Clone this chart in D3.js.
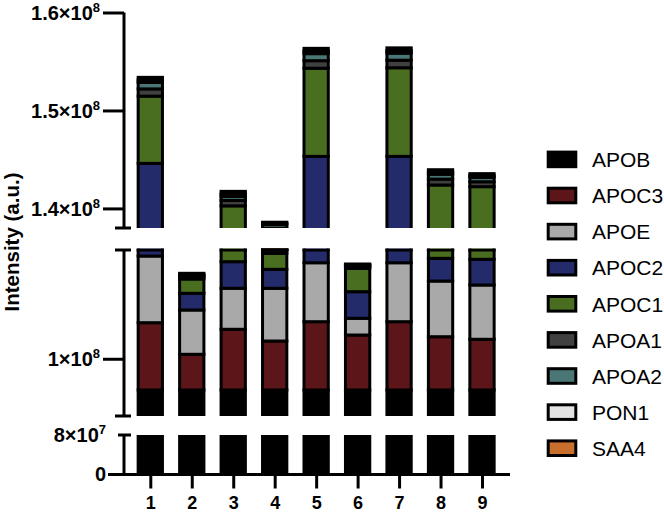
<!DOCTYPE html>
<html><head><meta charset="utf-8">
<script src="https://cdn.jsdelivr.net/npm/d3@7"></script>
<style>body{margin:0;background:#fff}svg{display:block}</style>
</head><body><svg id="c" width="664" height="514"></svg>
<script>
const categories = ["1","2","3","4","5","6","7","8","9"];
const proteins = ["APOB","APOC3","APOE","APOC2","APOC1","APOA1","APOA2","PON1","SAA4"];
const APOB  = [89.1e6, 89.1e6, 89.1e6, 89.1e6, 89.1e6, 89.1e6, 89.1e6, 89.1e6, 89.1e6];
const APOC3 = [23.5e6, 12.46e6, 21.2e6, 17.1e6, 23.85e6, 19.2e6, 23.85e6, 18.6e6, 17.7e6];
const APOE  = [23.3e6, 15.48e6, 14.33e6, 18.41e6, 20.6e6, 5.84e6, 20.6e6, 19.46e6, 18.97e6];
const APOC2 = [8.7e6, 5.83e6, 9.29e6, 6.64e6, 11.76e6, 9.29e6, 11.76e6, 7.93e6, 8.98e6];
const APOC1 = [6.86e6, 5.0e6, 6.34e6, 5.59e6, 9.0e6, 8.18e6, 9.05e6, 7.3e6, 7.47e6];
const APOA1 = [0.74e6, 0.6e6, 0.55e6, 1.13e6, 0.77e6, 0.55e6, 0.77e6, 0.6e6, 0.5e6];
const APOA2 = [0.66e6, 0.65e6, 0.4e6, 0.38e6, 0.72e6, 0.5e6, 0.72e6, 0.5e6, 0.45e6];
const PON1  = [0.26e6, 0.35e6, 0.25e6, 0.12e6, 0.26e6, 0.22e6, 0.26e6, 0.2e6, 0.18e6];
const SAA4  = [0.26e6, 0.39e6, 0.28e6, 0.12e6, 0.28e6, 0.23e6, 0.28e6, 0.26e6, 0.2e6];
const colors = ["#000000","#5c1619","#a9a9a9","#232b6b","#4a6e1f","#404040","#4a7676","#e3e3e3","#c96f2d"];
const segBot = [0, 8e7], segMid = [8e7, 1.38e8], segTop = [1.38e8, 1.6e8];
const ticksBot = [0, 8e7], ticksMid = [1e8], ticksTop = [1.4e8, 1.5e8, 1.6e8];
const yTitle = "Intensity (a.u.)";

const series = {APOB, APOC3, APOE, APOC2, APOC1, APOA1, APOA2, PON1, SAA4};
const rows = categories.map((c, i) => {
  const r = {cat: c};
  proteins.forEach(p => r[p] = series[p][i]);
  return r;
});
const stacked = d3.stack().keys(proteins)(rows);
const totals = rows.map(r => d3.sum(proteins, p => r[p]));

const svg = d3.select("#c");
const FONT = "'Liberation Sans', Arial, Helvetica, sans-serif";
const axisX = 124;

const x = d3.scalePoint().domain(categories).range([150.3, 482]);
const barW = 24.3;

const segments = [
  {dom: segBot, range: [474, 435], ticks: ticksBot, id: "b"},
  {dom: segMid, range: [416, 250], ticks: ticksMid, id: "m"},
  {dom: segTop, range: [228, 12.5], ticks: ticksTop, id: "t"}
];

const defs = svg.append("defs");

segments.forEach(seg => {
  const y = d3.scaleLinear().domain(seg.dom).range(seg.range);
  seg.y = y;
  const top = seg.range[1], bot = seg.range[0];
  const clipTop = seg.id === "m" ? top - 1.5 : top;
  defs.append("clipPath").attr("id", "clip-" + seg.id)
    .append("rect").attr("x", 0).attr("y", clipTop).attr("width", 664).attr("height", bot - clipTop);
  const g = svg.append("g").attr("clip-path", `url(#clip-${seg.id})`);
  stacked.forEach((layer, li) => {
    g.selectAll(null).data(layer).join("rect")
      .attr("x", d => x(d.data.cat) - barW / 2)
      .attr("width", barW)
      .attr("y", d => y(d[1]))
      .attr("height", d => Math.max(0, y(d[0]) - y(d[1])))
      .attr("fill", colors[li])
      .attr("stroke", "#000")
      .attr("stroke-width", 3);
  });
  if (seg.id === "m") {
    g.selectAll(null).data(rows.filter((r, i) => totals[i] > seg.dom[1])).join("line")
      .attr("x1", d => x(d.cat) - barW / 2 - 1.5)
      .attr("x2", d => x(d.cat) + barW / 2 + 1.5)
      .attr("y1", top).attr("y2", top)
      .attr("stroke", "#000").attr("stroke-width", 3);
  }
});

// y axis segments
function sciLabel(sel, v) {
  if (v === 0) { sel.text("0"); return; }
  const e = Math.floor(Math.log10(v));
  const m = +(v / Math.pow(10, e)).toFixed(2);
  sel.append("tspan").text(m + "×10");
  sel.append("tspan").attr("font-size", 13).attr("dy", -8).text(e);
}

segments.forEach(seg => {
  const y = seg.y;
  const top = seg.range[1], bot = seg.range[0];
  const g = svg.append("g").attr("transform", `translate(${axisX},0)`);
  const ax = d3.axisLeft(y).tickValues(seg.id === "b" ? [] : seg.ticks).tickSize(21).tickSizeOuter(0).tickFormat("");
  g.call(ax);
  g.select(".domain").attr("stroke-width", 3).attr("d", `M0,${top}V${bot}`);
  g.selectAll(".tick line").attr("stroke-width", 3);
  const caps = [];
  if (seg.id === "t") caps.push(bot);
  if (seg.id === "m") caps.push(top, bot);
  if (seg.id === "b") caps.push(top);
  caps.forEach(cy => {
    g.append("line").attr("x1", seg.id === "b" ? -6 : -9).attr("x2", 7).attr("y1", cy).attr("y2", cy)
      .attr("stroke", "#000").attr("stroke-width", 3);
  });
  seg.ticks.forEach(v => {
    const t = svg.append("text")
      .attr("x", seg.id === "b" ? 106 : 100)
      .attr("y", y(v) + 7.2)
      .attr("text-anchor", "end")
      .attr("font-family", FONT).attr("font-weight", "bold").attr("font-size", 20)
      .attr("fill", "#000");
    sciLabel(t, v);
  });
});

// x axis
svg.append("line").attr("x1", 108).attr("x2", 510).attr("y1", 474.5).attr("y2", 474.5)
  .attr("stroke", "#000").attr("stroke-width", 3);
const gx = svg.append("g").attr("transform", "translate(0,474.5)")
  .call(d3.axisBottom(x).tickSize(14).tickPadding(8));
gx.select(".domain").remove();
gx.selectAll(".tick line").attr("stroke-width", 3);
gx.selectAll(".tick text").attr("font-family", FONT).attr("font-weight", "bold").attr("font-size", 18).attr("fill", "#000");

// y title
svg.append("text")
  .attr("transform", "translate(19,242) rotate(-90)")
  .attr("text-anchor", "middle")
  .attr("font-family", FONT).attr("font-weight", "bold").attr("font-size", 20.5)
  .text(yTitle);

// legend
const lg = svg.append("g");
proteins.forEach((p, i) => {
  const cy = 159.4 + 36.1 * i;
  lg.append("rect").attr("x", 548.2).attr("y", cy - 7.3).attr("width", 27.6).attr("height", 14.6)
    .attr("fill", colors[i]).attr("stroke", "#000").attr("stroke-width", 3);
  lg.append("text").attr("x", 592).attr("y", cy + 7.7)
    .attr("font-family", FONT).attr("font-size", 21).attr("fill", "#000").text(p);
});
</script></body></html>
